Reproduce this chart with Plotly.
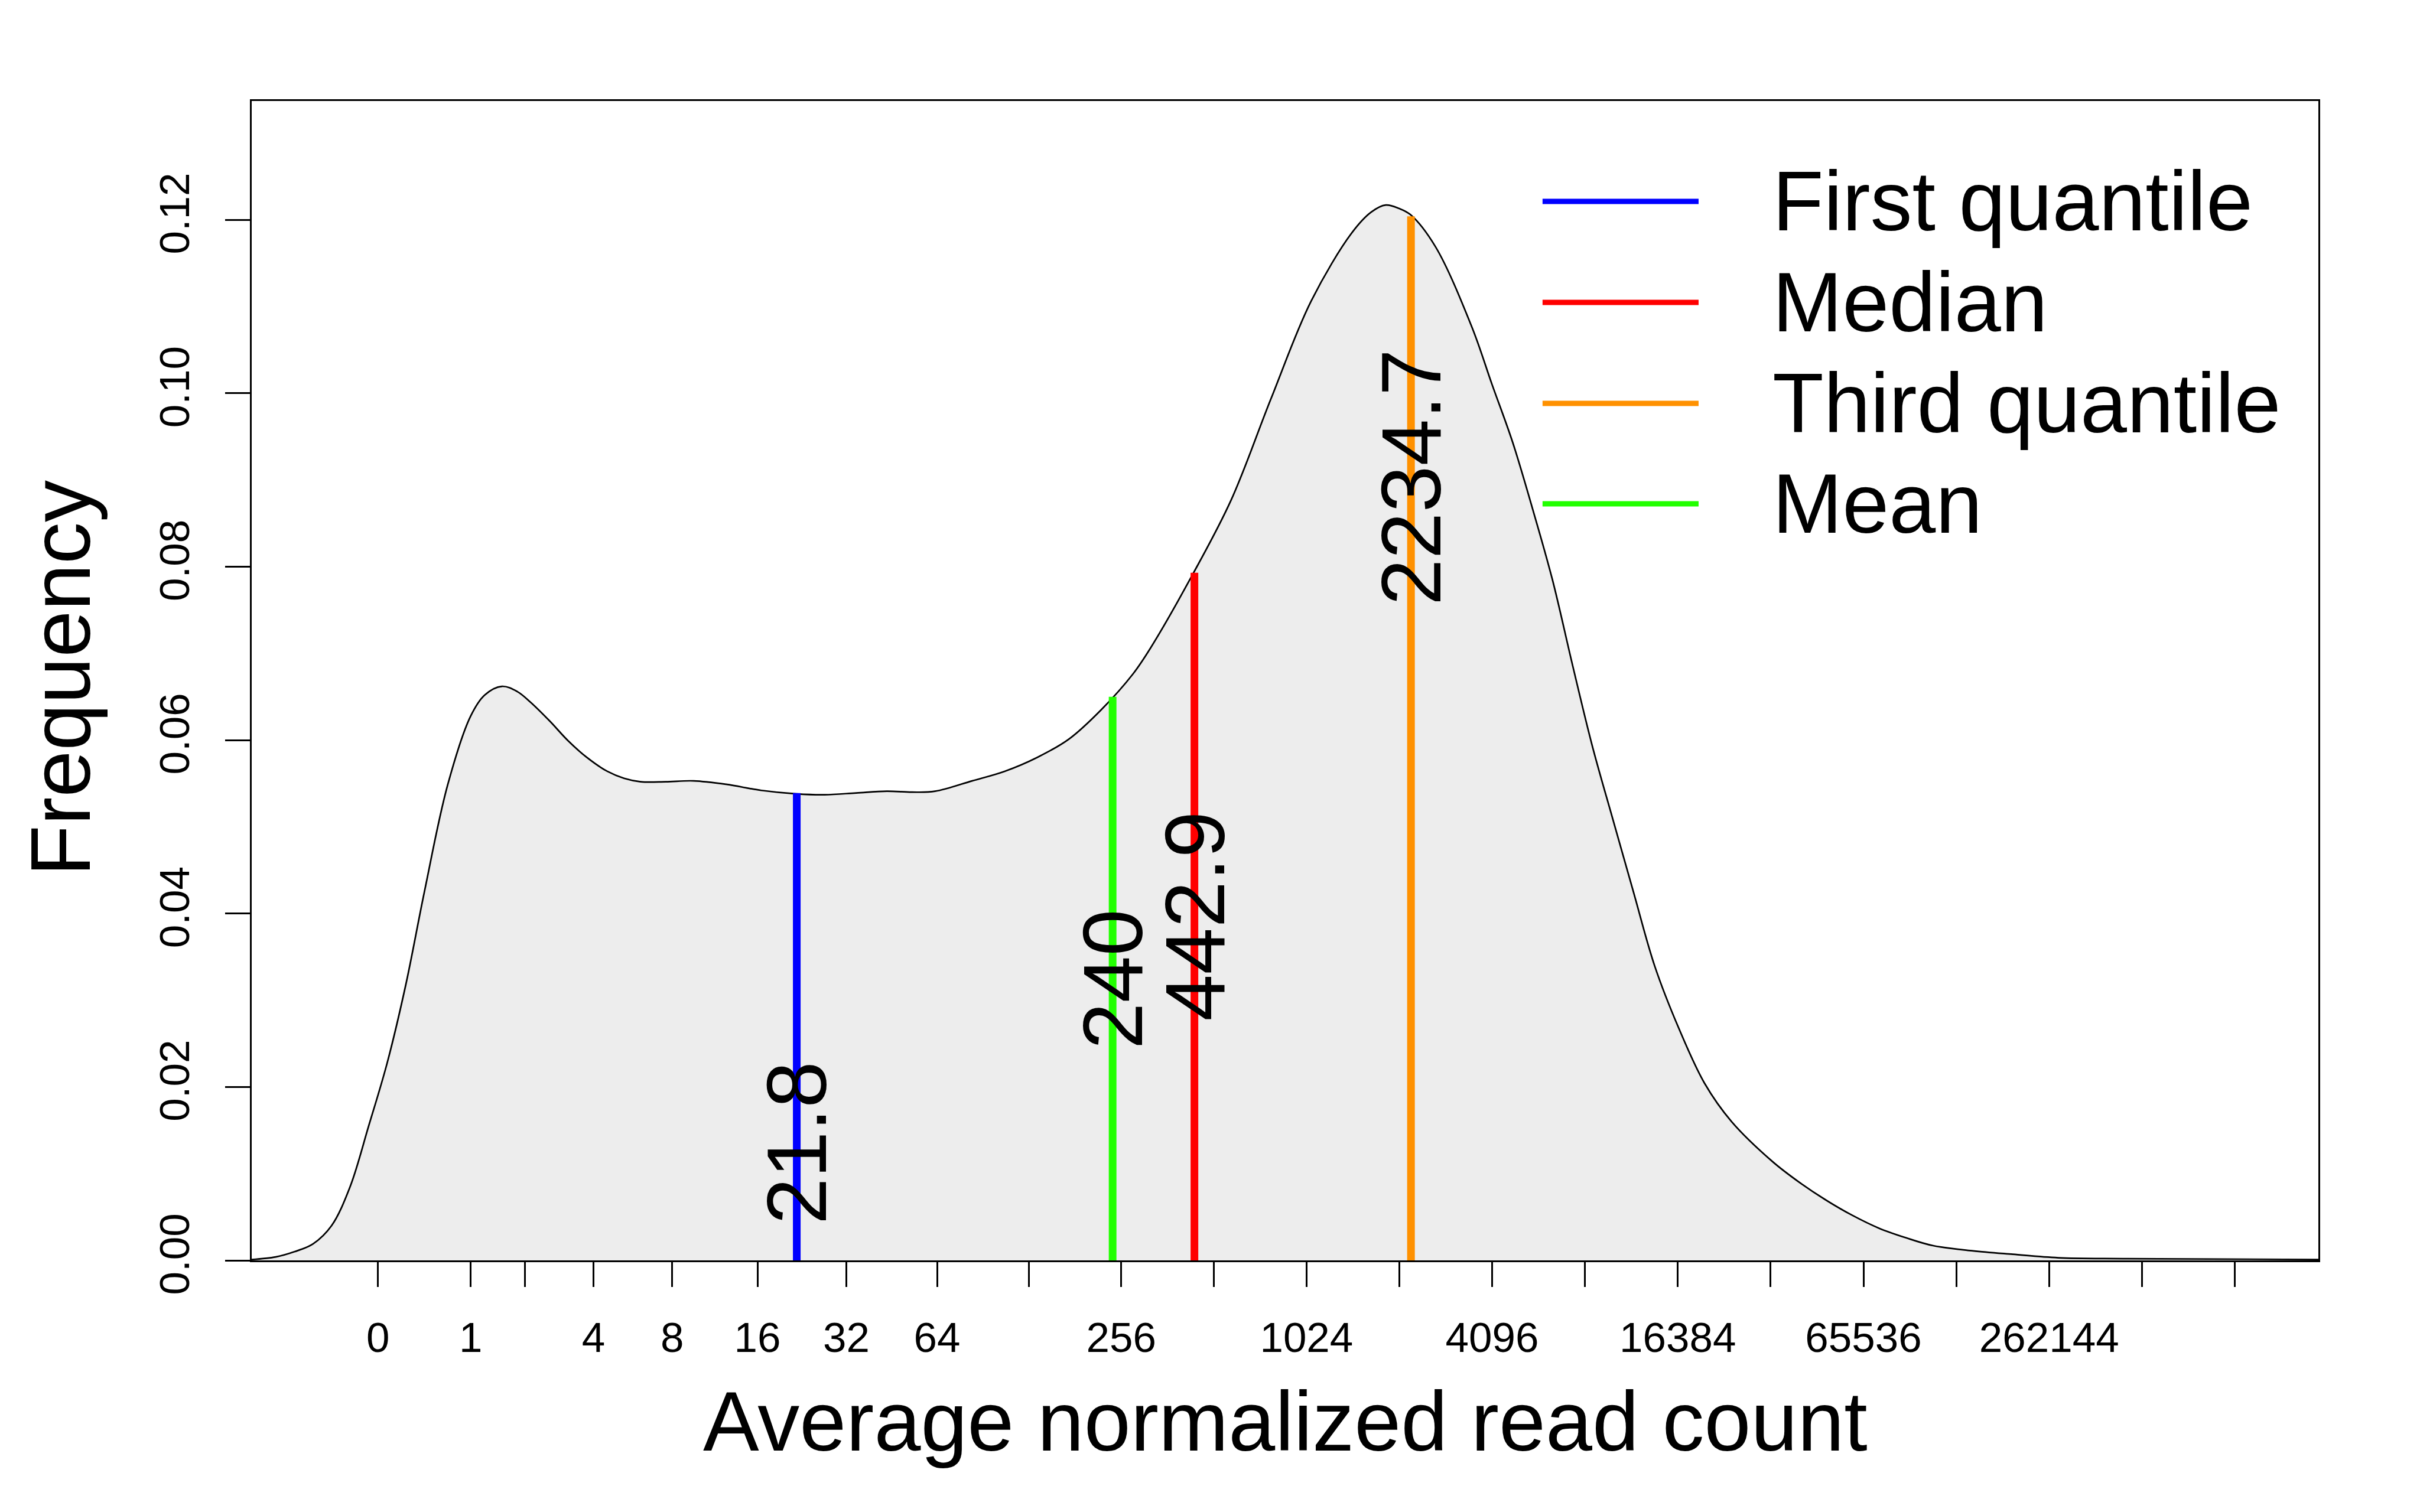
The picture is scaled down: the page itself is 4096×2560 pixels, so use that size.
import numpy as np
import plotly.graph_objects as go

# ---- density curve (x in log2(count + 1) units, y = density) ----
curve_x = [-1.36, -1.10, -0.90, -0.70, -0.50, -0.30, -0.10, 0.10, 0.30, 0.50,
           0.75, 1.00, 1.15, 1.335, 1.50, 1.64, 1.85, 2.05, 2.25, 2.47,
           2.65, 2.83, 3.10, 3.40, 3.75, 4.13, 4.51, 4.81, 5.15, 5.48,
           5.75, 6.00, 6.40, 6.75, 7.10, 7.44, 7.79, 8.13, 8.32, 8.785,
           9.19, 9.62, 10.05, 10.49, 10.70, 10.855, 11.00, 11.12, 11.39, 11.78,
           12.00, 12.22, 12.43, 12.65, 12.87, 13.08, 13.30, 13.52, 13.75, 14.01,
           14.29, 14.58, 15.02, 15.31, 15.59, 15.88, 16.17, 16.46, 16.75, 17.18,
           17.61, 18.10, 18.85, 20.90]
curve_y = [0.0001, 0.0004, 0.0010, 0.0019, 0.0040, 0.0085, 0.0155, 0.0228, 0.0318, 0.0425,
           0.0548, 0.0628, 0.0652, 0.0662, 0.0656, 0.0644, 0.0622, 0.0599, 0.0580, 0.0564,
           0.0556, 0.0552, 0.0552, 0.0553, 0.0549, 0.0542, 0.0538, 0.0537, 0.0539, 0.0541,
           0.0540, 0.0541, 0.0553, 0.0564, 0.0580, 0.0601, 0.0635, 0.0676, 0.0706, 0.0793,
           0.0877, 0.0994, 0.1106, 0.1185, 0.1209, 0.1217, 0.1213, 0.1206, 0.1169, 0.1077,
           0.1010, 0.0944, 0.0869, 0.0785, 0.0685, 0.0593, 0.0509, 0.0426, 0.0340, 0.0268,
           0.0204, 0.0160, 0.0114, 0.0090, 0.0070, 0.0052, 0.0037, 0.0026, 0.0017, 0.0011,
           0.0007, 0.0003, 0.0002, 0.0001]

# ---- axis ticks ----
tick_counts = [0, 1, 2, 4, 8, 16, 32, 64, 128, 256, 512, 1024, 2048, 4096, 8192,
               16384, 32768, 65536, 131072, 262144, 524288, 1048576]
tick_labels = ["0", "1", "", "4", "8", "16", "32", "64", "", "256", "", "1024", "",
               "4096", "", "16384", "", "65536", "", "262144", "", ""]
y_ticks = [0.00, 0.02, 0.04, 0.06, 0.08, 0.10, 0.12]
y_tick_labels = ["0.00", "0.02", "0.04", "0.06", "0.08", "0.10", "0.12"]

# ---- summary statistics ----
stat_names = ["First quantile", "Median", "Third quantile", "Mean"]
stat_values = [21.8, 442.9, 2234.7, 240]
stat_labels = ["21.8", "442.9", "2234.7", "240"]
stat_tops = [0.0539, 0.0793, 0.1204, 0.0650]
stat_label_y = [0.0135, 0.0397, 0.0903, 0.0324]
stat_colors = ["#0000FF", "#FF0000", "#FF9100", "#22FF00"]

FONT = "Liberation Sans, Arial, Helvetica, sans-serif"

fig = go.Figure()

fig.add_trace(go.Scatter(
    x=curve_x, y=curve_y, mode="lines",
    line=dict(color="black", width=2.7, shape="spline", smoothing=1.0),
    fill="tozeroy", fillcolor="#EDEDED", showlegend=False, hoverinfo="skip"))

tick_pos = np.log2(np.array(tick_counts, dtype=float) + 1)
stat_pos = np.log2(np.array(stat_values, dtype=float) + 1)

for xv, top, col in zip(stat_pos, stat_tops, stat_colors):
    fig.add_trace(go.Scatter(x=[xv, xv], y=[0, top], mode="lines",
                             line=dict(color=col, width=13), showlegend=False, hoverinfo="skip"))

annotations = []
for xv, ly, lab in zip(stat_pos, stat_label_y, stat_labels):
    annotations.append(dict(x=xv, y=ly, xref="x", yref="y", text=lab, showarrow=False,
                            textangle=-90, xanchor="center", yanchor="middle",
                            font=dict(family=FONT, size=142, color="black")))

# manual legend (paper coordinates)
shapes = []
leg_y = [0.9134, 0.8263, 0.7392, 0.6526]
for yy, name, col in zip(leg_y, stat_names, stat_colors):
    shapes.append(dict(type="line", xref="paper", yref="paper", x0=0.6246, x1=0.7001,
                       y0=yy, y1=yy, line=dict(color=col, width=9)))
    annotations.append(dict(x=0.7353, y=yy, xref="paper", yref="paper", text=name,
                            showarrow=False, xanchor="left", yanchor="middle",
                            font=dict(family=FONT, size=142, color="black")))

# axis titles
annotations.append(dict(x=0.5, y=-0.1386, xref="paper", yref="paper",
                        text="Average normalized read count", showarrow=False,
                        xanchor="center", yanchor="middle",
                        font=dict(family=FONT, size=142, color="black")))
annotations.append(dict(x=-0.0924, y=0.5023, xref="paper", yref="paper",
                        text="Frequency", showarrow=False, textangle=-90,
                        xanchor="center", yanchor="middle",
                        font=dict(family=FONT, size=142, color="black")))

fig.update_layout(
    width=4080, height=2544,
    margin=dict(l=418, r=164, t=163, b=418, pad=0, autoexpand=False),
    paper_bgcolor="white", plot_bgcolor="white",
    font=dict(family=FONT, color="black"),
    annotations=annotations, shapes=shapes, showlegend=False,
    xaxis=dict(range=[-1.36, 20.9], showgrid=False, zeroline=False,
               showline=True, mirror=True, linecolor="black", linewidth=3,
               tickmode="array", tickvals=tick_pos, ticktext=tick_labels,
               ticks="outside", ticklen=42, tickwidth=3, tickcolor="black",
               ticklabelstandoff=25, tickfont=dict(family=FONT, size=71, color="black")),
    yaxis=dict(range=[0, 0.1337], showgrid=False, zeroline=False,
               showline=True, mirror=True, linecolor="black", linewidth=3,
               tickmode="array", tickvals=y_ticks, ticktext=y_tick_labels,
               ticks="outside", ticklen=42, tickwidth=3, tickcolor="black",
               tickangle=-90, ticklabelstandoff=33,
               tickfont=dict(family=FONT, size=71, color="black")),
)

fig.write_html("out.html")
